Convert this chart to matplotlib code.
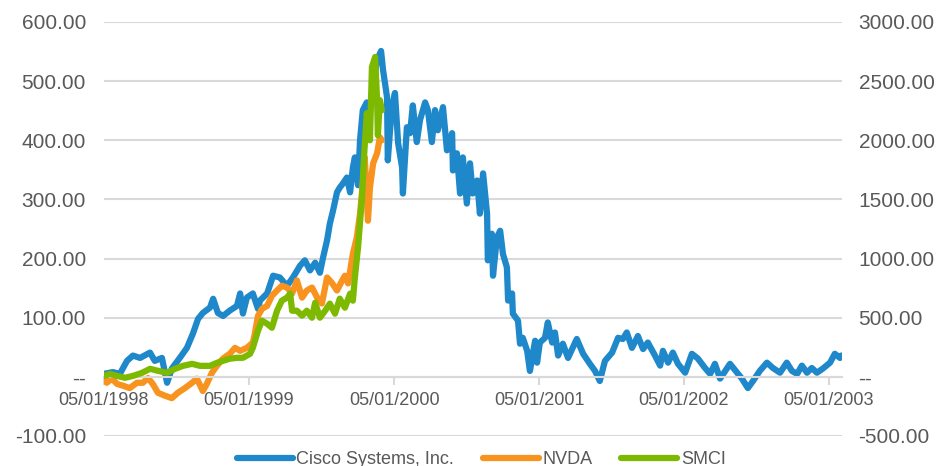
import pandas as pd
import matplotlib
matplotlib.use("Agg")
import matplotlib.pyplot as plt
import matplotlib.dates as mdates
from matplotlib.ticker import FuncFormatter, MultipleLocator

plt.rcParams['font.family'] = ['Liberation Sans', 'DejaVu Sans']

# Cisco Systems, Inc. (left axis)
cisco_dates = [
    "1998-05-01", "1998-05-23", "1998-06-10", "1998-06-28", "1998-07-13", "1998-07-31",
    "1998-08-25", "1998-09-06", "1998-09-24", "1998-10-07", "1998-10-19", "1998-11-08",
    "1998-11-26", "1998-12-11", "1998-12-24", "1999-01-05", "1999-01-23", "1999-01-31",
    "1999-02-12", "1999-02-25", "1999-03-14", "1999-04-01", "1999-04-09", "1999-04-16",
    "1999-04-26", "1999-05-11", "1999-05-24", "1999-05-29", "1999-06-16", "1999-07-01",
    "1999-07-18", "1999-08-05", "1999-08-20", "1999-09-07", "1999-09-19", "1999-10-02",
    "1999-10-15", "1999-10-27", "1999-11-04", "1999-11-14", "1999-11-21", "1999-11-29",
    "1999-12-09", "1999-12-16", "1999-12-24", "2000-01-03", "2000-01-11", "2000-01-18",
    "2000-01-23", "2000-01-31", "2000-02-05", "2000-02-12", "2000-02-22", "2000-03-01",
    "2000-03-09", "2000-03-19", "2000-03-29", "2000-04-03", "2000-04-13", "2000-04-15",
    "2000-04-25", "2000-05-03", "2000-05-11", "2000-05-21", "2000-05-23", "2000-06-02",
    "2000-06-10", "2000-06-17", "2000-06-27", "2000-07-05", "2000-07-18", "2000-07-25",
    "2000-08-04", "2000-08-12", "2000-08-19", "2000-09-01", "2000-09-11", "2000-09-24",
    "2000-09-26", "2000-10-06", "2000-10-14", "2000-10-21", "2000-10-31", "2000-11-08",
    "2000-11-15", "2000-11-26", "2000-12-03", "2000-12-11", "2000-12-21", "2000-12-23",
    "2001-01-02", "2001-01-05", "2001-01-15", "2001-01-23", "2001-01-30", "2001-02-09",
    "2001-02-12", "2001-02-22", "2001-02-24", "2001-03-09", "2001-03-14", "2001-03-21",
    "2001-04-01", "2001-04-08", "2001-04-21", "2001-04-26", "2001-05-03", "2001-05-16",
    "2001-05-23", "2001-06-03", "2001-06-10", "2001-06-18", "2001-06-30", "2001-07-13",
    "2001-08-04", "2001-08-20", "2001-09-06", "2001-09-19", "2001-10-01", "2001-10-14",
    "2001-11-01", "2001-11-16", "2001-11-28", "2001-12-08", "2001-12-21", "2002-01-05",
    "2002-01-18", "2002-01-30", "2002-02-17", "2002-03-02", "2002-03-09", "2002-03-22",
    "2002-04-03", "2002-04-16", "2002-05-04", "2002-05-21", "2002-06-05", "2002-06-23",
    "2002-07-06", "2002-07-18", "2002-07-31", "2002-08-25", "2002-09-12", "2002-09-24",
    "2002-10-09", "2002-10-22", "2002-11-08", "2002-11-26", "2002-12-11", "2002-12-29",
    "2003-01-15", "2003-01-28", "2003-02-10", "2003-02-22", "2003-03-07", "2003-03-19",
    "2003-04-01", "2003-04-16", "2003-05-04", "2003-05-16", "2003-05-29", "2003-06-01",
]
cisco_vals = [
    5, 8, 5, 27, 36, 32,
    41, 27, 32, -10, 14, 32,
    49, 73, 98, 108, 117, 132,
    108, 103, 112, 120, 141, 107,
    134, 141, 115, 129, 141, 171,
    168, 154, 168, 188, 197, 180,
    193, 176, 202, 231, 259, 281,
    312, 320, 327, 337, 312, 354,
    371, 324, 400, 451, 464, 447,
    497, 536, 551, 519, 473, 366,
    456, 480, 395, 354, 310, 422,
    412, 459, 397, 434, 464, 451,
    397, 451, 417, 456, 383, 412,
    349, 378, 310, 371, 293, 361,
    310, 332, 276, 344, 276, 197,
    242, 171, 236, 247, 208, 185,
    129, 141, 107, 95, 56, 66,
    44, 10, 61, 24, 58, 66,
    92, 58, 75, 36, 56, 32,
    64, 39, 22, 10, -7, 27,
    41, 66, 64, 75, 49, 69,
    47, 58, 36, 19, 44, 24,
    41, 22, 7, 39, 31, 15,
    5, 22, -3, 22, 7, -3,
    -19, -7, 10, 24, 15, 7,
    24, 10, 5, 19, 7, 15,
    7, 14, 24, 39, 32, 36,
]

# NVDA (left axis)
nvda_dates = [
    "1998-05-01", "1998-05-08", "1998-05-21", "1998-06-03", "1998-06-18", "1998-07-05",
    "1998-07-23", "1998-08-07", "1998-08-20", "1998-09-01", "1998-09-14", "1998-10-02",
    "1998-10-19", "1998-11-03", "1998-11-21", "1998-12-09", "1998-12-21", "1999-01-05",
    "1999-01-15", "1999-01-28", "1999-02-10", "1999-02-25", "1999-03-14", "1999-03-27",
    "1999-04-09", "1999-04-26", "1999-05-11", "1999-05-16", "1999-05-24", "1999-06-03",
    "1999-06-16", "1999-06-28", "1999-07-11", "1999-07-23", "1999-08-05", "1999-08-18",
    "1999-08-30", "1999-09-12", "1999-09-24", "1999-10-07", "1999-10-20", "1999-11-01",
    "1999-11-14", "1999-11-26", "1999-12-09", "1999-12-22", "1999-12-29", "2000-01-06",
    "2000-01-18", "2000-01-28", "2000-02-05", "2000-02-12", "2000-02-17", "2000-02-25",
    "2000-03-01", "2000-03-09", "2000-03-19", "2000-03-26", "2000-03-31",
]
nvda_vals = [
    2, -10, -3, -12, -15, -19,
    -10, -10, -2, -12, -27, -32,
    -36, -27, -19, -10, -3, -24,
    -12, 7, 19, 31, 39, 49,
    44, 49, 58, 73, 103, 115,
    120, 137, 146, 154, 151, 141,
    163, 134, 146, 151, 134, 124,
    168, 159, 146, 163, 171, 158,
    208, 236, 276, 327, 371, 264,
    320, 361, 378, 405, 400,
]

# SMCI (right axis)
smci_dates = [
    "1998-05-01", "1998-05-16", "1998-06-03", "1998-06-23", "1998-07-13", "1998-08-05",
    "1998-08-25", "1998-09-14", "1998-10-07", "1998-10-27", "1998-11-16", "1998-12-09",
    "1998-12-29", "1999-01-23", "1999-02-10", "1999-02-25", "1999-03-14", "1999-04-01",
    "1999-04-16", "1999-05-04", "1999-05-11", "1999-05-24", "1999-06-03", "1999-06-16",
    "1999-06-28", "1999-07-11", "1999-07-23", "1999-08-05", "1999-08-13", "1999-08-18",
    "1999-08-30", "1999-09-12", "1999-09-24", "1999-10-07", "1999-10-15", "1999-10-27",
    "1999-11-09", "1999-11-21", "1999-12-04", "1999-12-16", "1999-12-29", "2000-01-11",
    "2000-01-18", "2000-01-23", "2000-01-31", "2000-02-10", "2000-02-15", "2000-02-22",
    "2000-03-01", "2000-03-06", "2000-03-14", "2000-03-19", "2000-03-21", "2000-03-26",
    "2000-03-31",
]
smci_vals = [
    8, 25, 8, -8, 8, 34,
    68, 51, 34, 68, 93, 110,
    93, 93, 119, 136, 153, 161,
    161, 195, 246, 390, 475, 449,
    415, 559, 644, 670, 703, 559,
    559, 517, 559, 500, 627, 500,
    559, 619, 534, 661, 585, 703,
    644, 839, 1093, 1517, 1856, 2229,
    2000, 2619, 2704, 2339, 2042, 2339,
    2254,
]

blue = '#1f88cb'
orange = '#f7931e'
green = '#7cb900'
grey_text = '#595959'
grid_col = '#d9d9d9'

fig = plt.figure(figsize=(9.4, 4.66), dpi=100)
ax = fig.add_axes([0.1106, 0.0644, 0.7851, 0.8884])
ax2 = ax.twinx()

lw = 4.5
l1, = ax.plot(pd.to_datetime(cisco_dates), cisco_vals, color=blue, lw=lw,
              solid_joinstyle='round', solid_capstyle='round', label='Cisco Systems, Inc.')
l2, = ax.plot(pd.to_datetime(nvda_dates), nvda_vals, color=orange, lw=lw,
              solid_joinstyle='round', solid_capstyle='round', label='NVDA')
l3, = ax2.plot(pd.to_datetime(smci_dates), smci_vals, color=green, lw=lw,
               solid_joinstyle='round', solid_capstyle='round', label='SMCI')

ax.set_xlim(pd.Timestamp("1998-05-01"), pd.Timestamp("2003-06-03"))
ax.set_ylim(-100, 600)
ax2.set_ylim(-500, 3000)
ax.yaxis.set_major_locator(MultipleLocator(100))
ax2.yaxis.set_major_locator(MultipleLocator(500))

fmt = FuncFormatter(lambda v, p: '--' if abs(v) < 1e-9 else f'{v:.2f}')
ax.yaxis.set_major_formatter(fmt)
ax2.yaxis.set_major_formatter(fmt)

ax.xaxis.set_major_locator(mdates.MonthLocator(bymonth=5, bymonthday=1))
ax.xaxis.set_major_formatter(mdates.DateFormatter('%m/%d/%Y'))

ax.grid(axis='y', color=grid_col, lw=1.5)
ax.set_axisbelow(True)
for s in ['top', 'left', 'right']:
    ax.spines[s].set_visible(False)
    ax2.spines[s].set_visible(False)
ax2.spines['bottom'].set_visible(False)
ax.spines['bottom'].set_position(('data', 0))
ax.spines['bottom'].set_color(grid_col)
ax.spines['bottom'].set_linewidth(1.5)

ax.tick_params(axis='x', colors=grid_col, labelcolor=grey_text, labelsize=13,
               length=6, width=1.5, pad=5)
ax.tick_params(axis='y', length=0, labelsize=15, labelcolor=grey_text, pad=13)
ax2.tick_params(axis='y', length=0, labelsize=15, labelcolor=grey_text, pad=12)

fig.legend(handles=[l1, l2, l3], loc='center', bbox_to_anchor=(0.512, 0.014),
           ncol=3, frameon=False, fontsize=13, handlelength=3.1, handletextpad=0.2,
           columnspacing=1.6, labelcolor=grey_text)

fig.savefig('out.png', dpi=100)
